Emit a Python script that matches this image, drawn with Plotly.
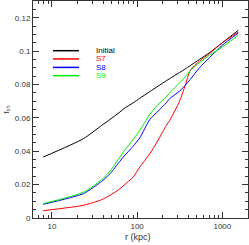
import plotly.graph_objects as go

r_kpc = [7.9, 23.4, 38.4, 48, 62.8, 70, 89.8, 107.5, 140.7, 175.8, 220, 241, 315, 367, 420, 539, 705, 1000, 1540]
f_initial = [0.0365, 0.0475, 0.0555, 0.059, 0.0635, 0.0655, 0.069, 0.0717, 0.0757, 0.079, 0.0822, 0.0835, 0.0872, 0.0893, 0.0913, 0.095, 0.0990, 0.1050, 0.1125]
f_s7 = [0.0044, 0.0076, 0.011, 0.0136, 0.0175, 0.0196, 0.0245, 0.0305, 0.0385, 0.0465, 0.0555, 0.0585, 0.070, 0.0795, 0.0884, 0.0940, 0.0985, 0.1050, 0.1114]
f_s8 = [0.0082, 0.0146, 0.022, 0.0265, 0.034, 0.037, 0.043, 0.048, 0.059, 0.064, 0.069, 0.0715, 0.076, 0.0795, 0.083, 0.0900, 0.0960, 0.1035, 0.1108]
f_s9 = [0.0086, 0.0154, 0.023, 0.028, 0.0365, 0.040, 0.047, 0.0525, 0.062, 0.068, 0.0725, 0.075, 0.081, 0.0845, 0.0884, 0.0930, 0.0975, 0.1025, 0.1094]

series_names = ["Initial", "S7", "S8", "S9"]
series_values = [f_initial, f_s7, f_s8, f_s9]
series_colors = ["#000000", "#ff0000", "#0000ff", "#00ee00"]

x_tick_vals = [10, 100, 1000]
x_tick_text = ["10", "100", "1000"]
y_tick_vals = [0, 0.02, 0.04, 0.06, 0.08, 0.1, 0.12]
y_tick_text = ["0", "0.02", "0.04", "0.06", "0.08", "0.1", "0.12"]

fig = go.Figure()
for name, vals, col in zip(series_names, series_values, series_colors):
    fig.add_trace(go.Scatter(x=r_kpc, y=vals, mode="lines", name=name,
                             line=dict(color=col, width=1, shape="spline", smoothing=0.6),
                             showlegend=False, hoverinfo="skip"))

# legend drawn manually (paper coords)
leg_y = [0.771, 0.733, 0.694, 0.656]
for yy, name, col in zip(leg_y, series_names, series_colors):
    fig.add_shape(type="line", xref="paper", yref="paper", x0=0.093, x1=0.214,
                  y0=yy, y1=yy, line=dict(color=col, width=1.5))
    fig.add_annotation(xref="paper", yref="paper", x=0.284, y=yy, text=name,
                       showarrow=False, xanchor="left", yanchor="middle",
                       font=dict(color=col, size=8, family="Liberation Sans"))

fig.add_annotation(xref="paper", yref="paper", x=-0.125, y=0.5,
                   text="f<sub>sh</sub>", textangle=-90, showarrow=False,
                   xanchor="center", yanchor="middle",
                   font=dict(size=8, color="#333", family="Liberation Sans"))
fig.add_annotation(xref="paper", yref="paper", x=0.49, y=-0.088,
                   text="r (kpc)", showarrow=False,
                   xanchor="center", yanchor="middle",
                   font=dict(size=9, color="#333", family="Liberation Sans"))

minor_x = [6, 7, 8, 9, 20, 30, 40, 50, 60, 70, 80, 90, 200, 300, 400, 500, 600, 700, 800, 900, 2000]

fig.update_xaxes(type="log", range=[0.778, 3.301], tickvals=x_tick_vals, ticktext=x_tick_text,
                 ticks="inside", ticklen=6, tickcolor="#333", mirror="ticks",
                 showline=True, linecolor="#333", linewidth=1, showgrid=False, zeroline=False,
                 minor=dict(tickvals=minor_x, ticks="inside", ticklen=3, tickcolor="#333", showgrid=False),
                 tickfont=dict(size=8, color="#333", family="Liberation Sans"))
fig.update_yaxes(range=[0, 0.13], tickvals=y_tick_vals, ticktext=y_tick_text,
                 ticks="inside", ticklen=6, tickcolor="#333", mirror="ticks",
                 showline=True, linecolor="#333", linewidth=1, showgrid=False, zeroline=False,
                 minor=dict(dtick=0.005, ticks="inside", ticklen=3, tickcolor="#333", showgrid=False),
                 tickfont=dict(size=8, color="#333", family="Liberation Sans"))

fig.update_layout(width=249, height=245, margin=dict(l=33, r=1, t=1, b=27),
                  paper_bgcolor="white", plot_bgcolor="white", showlegend=False)

fig.write_html("out.html", config={"displayModeBar": False},
               post_script="document.body.style.margin='0';document.body.style.overflow='hidden';")
